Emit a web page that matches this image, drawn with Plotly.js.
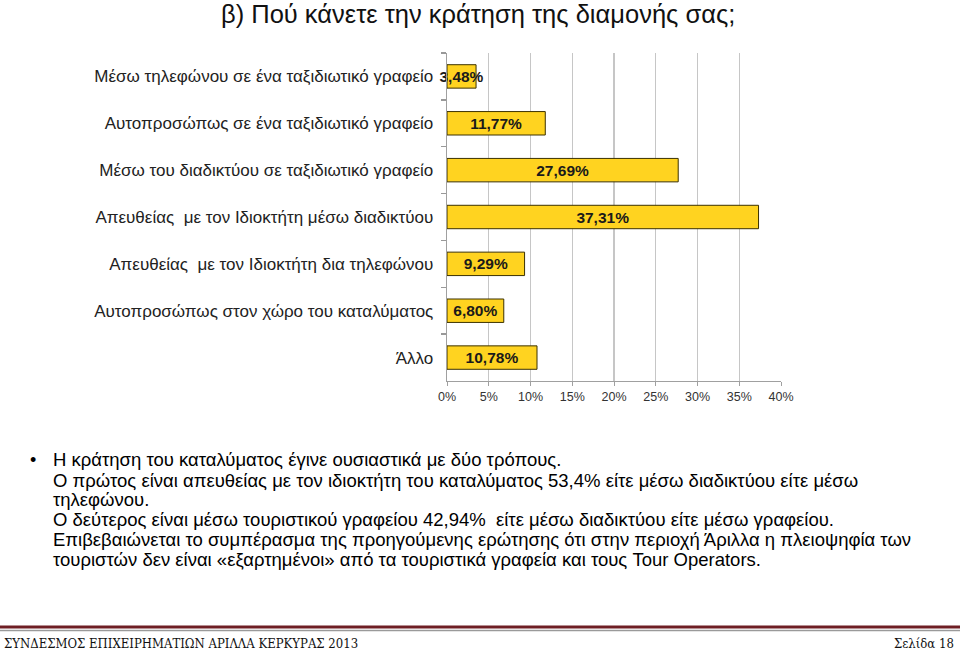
<!DOCTYPE html>
<html>
<head>
<meta charset="utf-8">
<script src="https://cdn.plot.ly/plotly-3.0.1.min.js"></script>
<style>
  body { margin: 0; background: #fff; }
  #chart { width: 960px; height: 650px; }
</style>
</head>
<body>
<div id="chart"></div>
<script>
const categories = [
    'Μέσω τηλεφώνου σε ένα ταξιδιωτικό γραφείο',
    'Αυτοπροσώπως σε ένα ταξιδιωτικό γραφείο',
    'Μέσω του διαδικτύου σε ταξιδιωτικό γραφείο',
    'Απευθείας  με τον Ιδιοκτήτη μέσω διαδικτύου',
    'Απευθείας  με τον Ιδιοκτήτη δια τηλεφώνου',
    'Αυτοπροσώπως στον χώρο του καταλύματος',
    'Άλλο'
];
const values = [3.48, 11.77, 27.69, 37.31, 9.29, 6.80, 10.78];
const xTicks = [0, 5, 10, 15, 20, 25, 30, 35, 40];
const xTickText = xTicks.map(v => v + '%');

const bodyLines = [
    'Η κράτηση του καταλύματος έγινε ουσιαστικά με δύο τρόπους.',
    'Ο πρώτος είναι απευθείας με τον ιδιοκτήτη του καταλύματος 53,4% είτε μέσω διαδικτύου είτε μέσω',
    'τηλεφώνου.',
    'Ο δεύτερος είναι μέσω τουριστικού γραφείου 42,94%  είτε μέσω διαδικτύου είτε μέσω γραφείου.',
    'Επιβεβαιώνεται το συμπέρασμα της προηγούμενης ερώτησης ότι στην περιοχή Άριλλα η πλειοψηφία των',
    'τουριστών δεν είναι «εξαρτημένοι» από τα τουριστικά γραφεία και τους Tour Operators.'
];
const footerLeft = 'ΣΥΝΔΕΣΜΟΣ ΕΠΙΧΕΙΡΗΜΑΤΙΩΝ ΑΡΙΛΛΑ ΚΕΡΚΥΡΑΣ 2013';
const footerRight = 'Σελίδα 18';

// plot area in pixels
const W = 960, H = 650;
const plotL = 447, plotR = 781, plotT = 53, plotB = 381;
const px = x => (x - plotL) / (plotR - plotL);
const py = y => (plotB - y) / (plotB - plotT);

const trace = {
    type: 'bar',
    orientation: 'h',
    x: values,
    y: categories,
    marker: {
        color: '#FFD320',
        line: { color: '#3b3100', width: 1 }
    },
    texttemplate: '%{x:.2f}%',
    textposition: 'inside',
    insidetextanchor: 'middle',
    constraintext: 'none',
    textangle: 0,
    textfont: { family: 'Liberation Sans, Arial, sans-serif', size: 15.5, color: '#1a1a1a', weight: 'bold' },
    cliponaxis: false,
    hoverinfo: 'skip'
};

const annotations = [];
const shapes = [];

// title
annotations.push({
    text: 'β) Πού κάνετε την κράτηση της διαμονής σας;',
    xref: 'paper', yref: 'paper',
    x: px(478), y: py(14), xanchor: 'center', yanchor: 'middle',
    showarrow: false,
    font: { family: 'Liberation Sans, Arial, sans-serif', size: 25.5, color: '#111' }
});

// bullet
annotations.push({
    text: '•',
    xref: 'paper', yref: 'paper',
    x: px(33), y: py(460), xanchor: 'center', yanchor: 'middle',
    showarrow: false,
    font: { family: 'Liberation Sans, Arial, sans-serif', size: 18, color: '#000' }
});

const lineY = [460, 480, 499, 519, 539, 559];
bodyLines.forEach((t, i) => {
    annotations.push({
        text: t,
        xref: 'paper', yref: 'paper',
        x: px(51), y: py(lineY[i]), xanchor: 'left', yanchor: 'middle',
        showarrow: false,
        font: { family: 'Liberation Sans, Arial, sans-serif', size: 18.5, color: '#000' }
    });
});

// footer
annotations.push({
    text: footerLeft,
    xref: 'paper', yref: 'paper',
    x: px(2), y: py(643), xanchor: 'left', yanchor: 'middle',
    showarrow: false,
    font: { family: 'DejaVu Serif Condensed, Liberation Serif, serif', size: 13, color: '#111' }
});
annotations.push({
    text: footerRight,
    xref: 'paper', yref: 'paper',
    x: px(956), y: py(643), xanchor: 'right', yanchor: 'middle',
    showarrow: false,
    font: { family: 'DejaVu Serif Condensed, Liberation Serif, serif', size: 13, color: '#111' }
});

shapes.push({
    type: 'line', xref: 'paper', yref: 'paper',
    x0: px(0), x1: px(960), y0: py(627), y1: py(627),
    line: { color: '#6e1f24', width: 3 }
});
shapes.push({
    type: 'line', xref: 'paper', yref: 'paper',
    x0: px(0), x1: px(960), y0: py(630.5), y1: py(630.5),
    line: { color: '#9a9a9a', width: 1.5 }
});

const layout = {
    width: W,
    height: H,
    margin: { l: plotL, r: W - plotR, t: plotT, b: H - plotB, pad: 0 },
    paper_bgcolor: '#fff',
    plot_bgcolor: '#fff',
    separators: ',.',
    showlegend: false,
    bargap: 0.5,
    font: { family: 'Liberation Sans, Arial, sans-serif', color: '#222' },
    xaxis: {
        range: [0, 40],
        tickmode: 'array',
        tickvals: xTicks,
        ticktext: xTickText,
        showgrid: true,
        gridcolor: '#c6c6c6',
        gridwidth: 1.3,
        zeroline: false,
        showline: true,
        linecolor: '#a0a0a0',
        ticks: 'outside',
        ticklen: 4,
        tickcolor: '#a0a0a0',
        tickfont: { size: 12.5, color: '#333' },
        fixedrange: true
    },
    yaxis: {
        autorange: 'reversed',
        type: 'category',
        showline: true,
        linecolor: '#a0a0a0',
        linewidth: 1.3,
        ticks: 'outside',
        tickson: 'boundaries',
        ticklen: 5,
        tickwidth: 1.3,
        tickcolor: '#999999',
        ticklabelstandoff: 9,
        showgrid: false,
        tickfont: { size: 17, color: '#222' },
        fixedrange: true
    },
    annotations: annotations,
    shapes: shapes
};

Plotly.newPlot('chart', [trace], layout, { displayModeBar: false, staticPlot: true });
</script>
</body>
</html>
